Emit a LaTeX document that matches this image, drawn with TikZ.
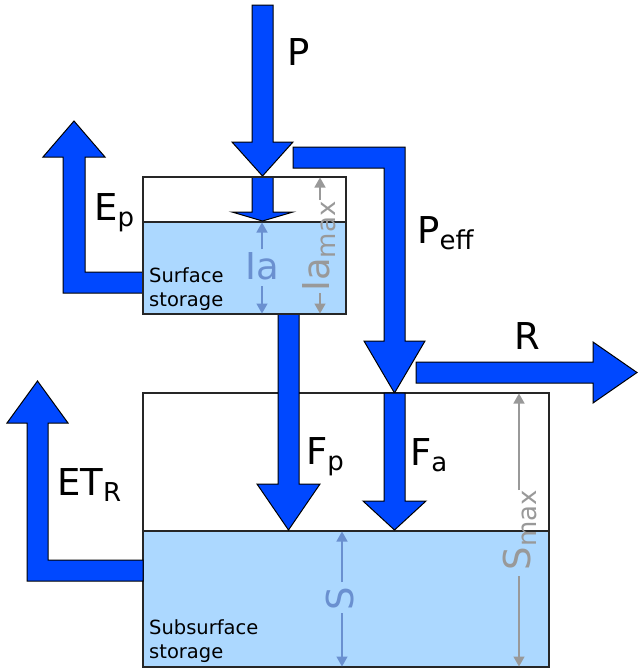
\documentclass[tikz,border=0pt]{standalone}
\usepackage{fontspec}
\setmainfont{DejaVu Sans}
\usetikzlibrary{arrows.meta}
\definecolor{flow}{RGB}{0,72,255}
\definecolor{water}{RGB}{172,216,255}
\definecolor{level}{RGB}{106,144,208}
\definecolor{capgray}{RGB}{153,153,153}
\newcommand{\lowsub}[1]{\raisebox{-6pt}{\fontsize{26}{26}\selectfont #1}}

\tikzset{
  flowarrow/.style={fill=flow, draw=black, line width=1pt, line join=miter},
  tank/.style={draw=black!85, line width=1.5pt},
  biglabel/.style={font=\fontsize{37}{44}\selectfont, inner sep=0pt},
  boxlabel/.style={font=\fontsize{19.5}{24}\selectfont, inner sep=0pt, align=left, anchor=north west},
  dimline/.style={line width=1.5pt, -{Triangle[length=10pt,width=11pt]}},
}

\begin{document}
\begin{tikzpicture}[x=1pt, y=-1pt]
            \useasboundingbox (0,0) rectangle (638,670);
            % tanks
            \coordinate (SA) at (143,177); \coordinate (SB) at (346,314);
            \coordinate (GA) at (143,393); \coordinate (GB) at (549,667);
            \fill[water] (143,222) rectangle (SB);
            \fill[water] (143,531) rectangle (GB);
            \draw[tank] (SA) rectangle (SB);
            \draw[tank] (GA) rectangle (GB);
            \draw[tank, line width=1.2pt] (143,222) -- (346,222);
            \draw[tank, line width=1.2pt] (143,531) -- (549,531);
            % fluxes
            \draw[flowarrow] (252,5) -- (273,5) -- (273,142) -- (293,142) -- (262.5,176)
                -- (232,142) -- (252,142) -- cycle;
            \draw[flowarrow] (252,177) -- (273,177) -- (273,212) -- (293,212) -- (262.5,221)
                -- (232,212) -- (252,212) -- cycle;
            \draw[flowarrow] (293,147) -- (405,147) -- (405,341) -- (425,341) -- (394.5,393)
                -- (364,341) -- (384,341) -- (384,168) -- (293,168) -- cycle;
            \draw[flowarrow] (416,362) -- (593,362) -- (593,342) -- (637,372.5) -- (593,403)
                -- (593,383) -- (416,383) -- cycle;
            \draw[flowarrow] (143,272) -- (85,272) -- (85,157) -- (105,157) -- (74,121)
                -- (43,157) -- (63,157) -- (63,293) -- (143,293) -- cycle;
            \draw[flowarrow] (143,560) -- (48,560) -- (48,423) -- (68,423) -- (37.5,381)
                -- (7,423) -- (27,423) -- (27,581) -- (143,581) -- cycle;
            \draw[flowarrow] (278,314) -- (299,314) -- (299,484) -- (320,484) -- (288.5,530)
                -- (257,484) -- (278,484) -- cycle;
            \draw[flowarrow] (384,393) -- (405,393) -- (405,501) -- (426,501) -- (394.5,530)
                -- (363,501) -- (384,501) -- cycle;
            \draw[tank] (SA) rectangle (SB);
            % levels
            \draw[dimline, level] (262,249) -- (262,222.5);
            \draw[dimline, level] (262,286) -- (262,313.5);
            \node[biglabel, text=level] (ia) at (262,266) {Ia};
            \draw[dimline, capgray] (320,200) -- (320,177.5);
            \draw[dimline, capgray] (320,293) -- (320,313.5);
            \node[biglabel, text=capgray, rotate=90] (iamax) at (319,246.5) {Ia\lowsub{max}};
            \draw[dimline, level] (342,582) -- (342,531.5);
            \draw[dimline, level] (342,613) -- (342,666.5);
            \node[biglabel, text=level, rotate=90] (s) at (340,599) {S};
            \draw[dimline, capgray] (519,490) -- (519,393.5);
            \draw[dimline, capgray] (519,576) -- (519,666.5);
            \node[biglabel, text=capgray, rotate=90] (smax) at (520,530) {S\lowsub{max}};
            % labels
            \node[biglabel, anchor=base west] (p) at (287,65) {P};
            \node[biglabel, anchor=base west] (peff) at (417,243) {P\lowsub{eff}};
            \node[biglabel, anchor=base west] (ep) at (94,220) {E\lowsub{p}};
            \node[biglabel, anchor=base west] (etr) at (57,495) {ET\lowsub{R}};
            \node[biglabel, anchor=base west] (fp) at (306,464) {F\lowsub{p}};
            \node[biglabel, anchor=base west] (fa) at (410,465) {F\lowsub{a}};
            \node[biglabel, anchor=base west] (r) at (514,349) {R};
            \node[boxlabel] (surf) at (149,267) {Surface\\storage};
            \node[boxlabel] (subsurf) at (149,619) {Subsurface\\storage};
\end{tikzpicture}
\end{document}
